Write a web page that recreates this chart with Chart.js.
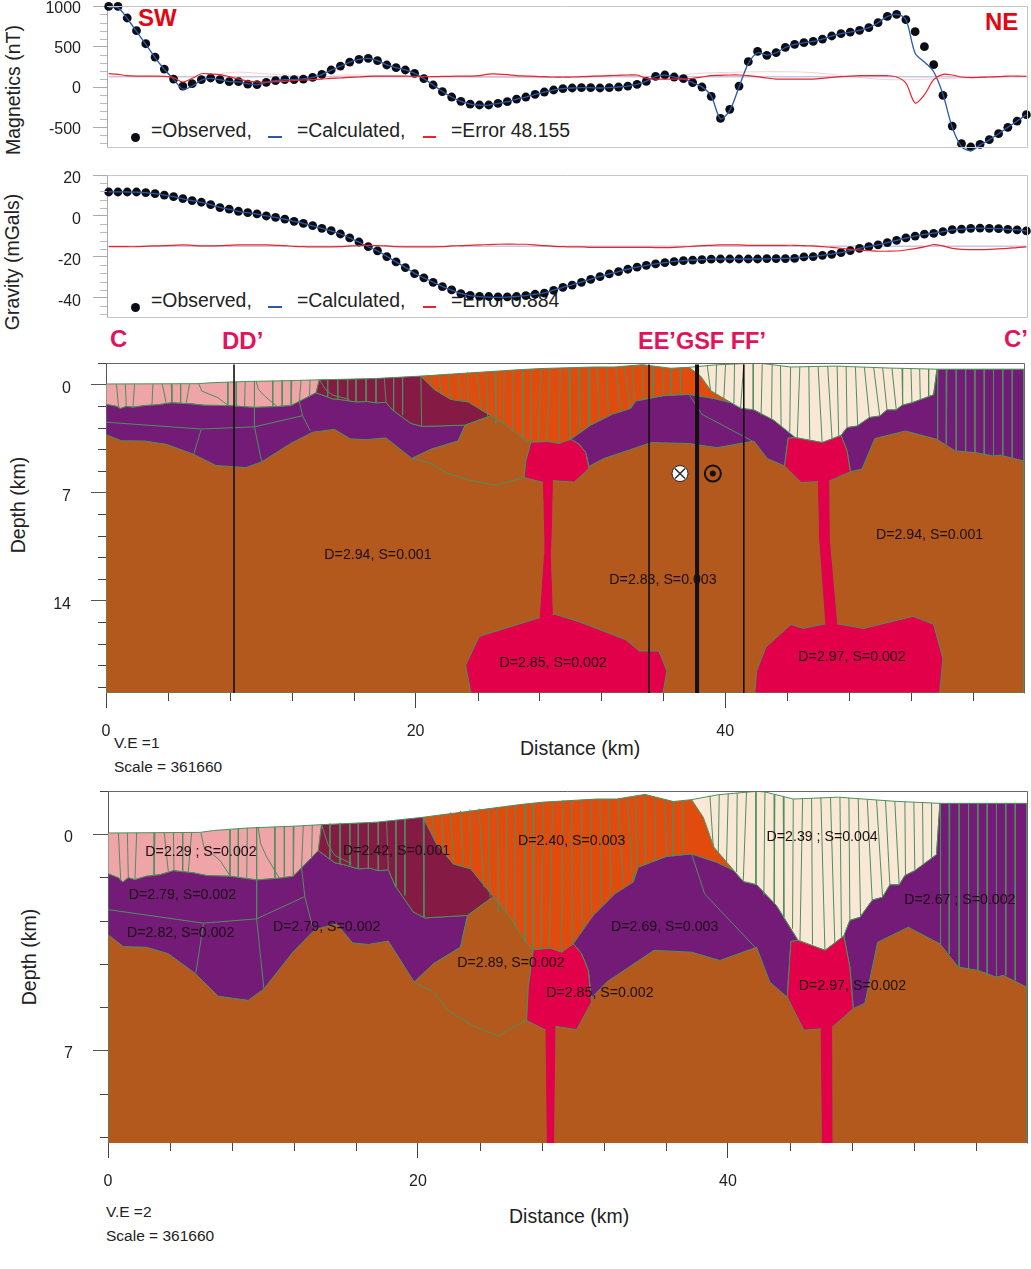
<!DOCTYPE html>
<html>
<head>
<meta charset="utf-8">
<script src="https://cdn.jsdelivr.net/npm/chart.js@4"></script>
<style>
  html, body { margin: 0; padding: 0; background: #fff; }
  body { position: relative; width: 1031px; height: 1269px; overflow: hidden; font-family: "Liberation Sans", Arial, sans-serif; }
  canvas { position: absolute; left: 0; z-index: 2; }
  .txt { position: absolute; white-space: pre; z-index: 1; transform: translateY(-50%); color: #222; }
</style>
</head>
<body>
<canvas id="magChart" width="1031" height="165" style="top:0"></canvas>
<canvas id="gravChart" width="1031" height="165" style="top:165px"></canvas>
<canvas id="section1" width="1031" height="400" style="top:350px"></canvas>
<canvas id="section2" width="1031" height="420" style="top:780px"></canvas>
<script>
// Stations along the profile (km)
const stationKm = [0,0.6,1.2,1.8,2.4,3,3.6,4.2,4.8,5.4,6,6.6,7.2,7.8,8.4,9,9.6,10.2,10.8,11.4,12,12.6,13.2,13.8,14.4,15,15.6,16.2,16.8,17.4,18,18.6,19.2,19.8,20.4,21,21.6,22.2,22.8,23.4,24,24.6,25.2,25.8,26.4,27,27.6,28.2,28.8,29.4,30,30.6,31.2,31.8,32.4,33,33.6,34.2,34.8,35.4,36,36.6,37.2,37.8,38.4,39,39.6,40.2,40.8,41.4,42,42.6,43.2,43.8,44.4,45,45.6,46.2,46.8,47.4,48,48.6,49.2,49.8,50.4,51,51.6,52.2,52.8,53.4,54,54.6,55.2,55.8,56.4,57,57.6,58.2,58.8,59.4];

// Magnetics (nT)
const magObserved = [1000,1000,856,699,537,372,223,99,12,41,91,112,91,66,66,37,29,58,79,91,91,99,120,157,211,260,310,343,356,327,273,240,211,170,103,25,-58,-124,-178,-211,-223,-223,-203,-182,-149,-124,-91,-62,-37,-21,-12,-8,-8,-12,-8,0,12,33,70,132,149,124,103,54,0,-116,-389,-277,12,314,442,393,426,492,529,550,566,595,633,662,682,703,736,798,877,901,835,686,500,277,-103,-484,-703,-744,-711,-653,-579,-500,-422,-343];
const magCalculated = [985,985,850,690,530,365,220,95,-25,10,85,108,90,68,64,40,30,56,78,90,92,100,120,155,210,258,308,342,355,328,274,240,212,170,104,26,-56,-124,-178,-212,-225,-224,-203,-182,-150,-124,-92,-62,-38,-21,-12,-8,-8,-12,-8,0,12,33,72,130,148,124,102,54,2,-110,-395,-290,0,290,425,395,425,490,528,550,566,595,632,662,682,703,736,798,875,900,835,420,310,190,-90,-500,-740,-790,-720,-655,-580,-500,-422,-343];
const magError = [165,157,141,136,136,136,132,116,62,108,165,161,153,128,99,74,62,62,66,70,79,87,91,99,108,112,120,124,132,136,136,136,136,132,128,128,132,132,136,136,141,161,161,153,141,136,132,128,124,124,124,128,132,136,141,145,149,149,108,99,99,99,99,108,124,141,145,149,149,141,128,112,99,99,99,99,99,108,120,128,136,141,141,141,141,124,50,-198,-95,91,157,149,124,116,120,124,128,136,136,132];
const magBaseline = [128,128];
const magGhostKm = [7.2,8.4,9.6,11.4,13.8,15,17.4,28.8,32.4,36,38.4,45,50.4,56.4,59.4];
const magGhost = [170,185,172,150,122,150,140,118,148,128,172,185,92,122,135];
const magTicks = [1000,500,0,-500];
const magMinor = [900,800,700,600,400,300,200,100,-100,-200,-300,-400,-600,-700];

// Gravity (mGals)
const gravObserved = [11.7,11.7,11.7,11.7,11.4,10.9,10.2,9.4,8.5,7.5,6.7,5.5,4.1,3.3,2.3,1.6,1,0,-0.7,-1.5,-2.6,-3.6,-4.7,-6,-7.2,-8.8,-10.7,-12.7,-15,-17,-19.8,-22.4,-25.2,-28.1,-30.2,-32.4,-34.5,-36.1,-37.9,-38.7,-39.2,-39.3,-39.5,-39.5,-39.3,-38.9,-38.2,-37.6,-36.3,-34.8,-33.7,-32.4,-30.9,-29.6,-28.3,-27.2,-26,-25,-24.1,-23.4,-22.8,-22.3,-21.8,-21.5,-21.3,-21.1,-21,-21,-21,-21,-21,-20.8,-20.8,-20.8,-20.7,-20,-19.8,-19.2,-18.7,-17.9,-16.9,-15.8,-15,-14.1,-13,-11.9,-10.7,-9.8,-8.9,-8.5,-7.6,-6.7,-6.4,-6,-5.9,-6,-6.2,-6.5,-6.8,-7.3];
const gravCalculated = [11.8,11.8,11.7,11.6,11.4,10.9,10.2,9.4,8.4,7.5,6.6,5.5,4.2,3.3,2.3,1.6,0.9,0,-0.7,-1.6,-2.6,-3.6,-4.8,-6,-7.3,-8.8,-10.7,-12.8,-15,-17.1,-19.7,-22.4,-25.1,-28,-30.2,-32.4,-34.4,-36.2,-37.8,-38.9,-39.4,-39.6,-39.7,-39.6,-39.3,-38.9,-38.2,-37.5,-36.2,-34.8,-33.6,-32.3,-30.9,-29.6,-28.3,-27.1,-26,-25,-24.1,-23.4,-22.8,-22.2,-21.8,-21.5,-21.3,-21.1,-21,-21,-21,-21,-21,-20.9,-20.8,-20.7,-20.6,-20.1,-19.8,-19.2,-18.6,-17.9,-16.9,-15.8,-15,-14.1,-13,-11.9,-10.8,-9.8,-9,-8.4,-7.6,-6.8,-6.4,-6,-5.9,-6,-6.2,-6.5,-6.8,-7.3];
const gravError = [-15,-15,-15,-15,-14.8,-14.6,-14.5,-14.3,-14.1,-14.3,-14.6,-14.6,-14.5,-14.3,-14.1,-14.1,-14.1,-14.1,-14.3,-14.5,-14.8,-15,-15.1,-15.1,-15.1,-15,-14.6,-14.5,-14.3,-14.5,-14.6,-15,-15.1,-15.1,-15.1,-15.1,-15,-14.6,-14.5,-14.3,-14.1,-14,-13.8,-13.7,-13.8,-13.8,-14.1,-14.5,-14.8,-15,-15.1,-15.1,-15.3,-15.3,-15.3,-15.3,-15.3,-15.3,-15.3,-15.4,-15.4,-15.3,-15.1,-14.8,-14.5,-14.3,-14.1,-14.1,-14.1,-14.3,-14.3,-14.3,-14.3,-14.3,-14.3,-14.5,-14.6,-15,-15.3,-15.8,-16.3,-16.7,-16.9,-17.2,-17.2,-17.1,-16.6,-15.9,-15.1,-14,-14.6,-15.8,-16.3,-16.4,-16.4,-16.3,-16.1,-15.8,-15.4,-15.1];
const gravBaseline = [-14.8,-14.8];
const gravTicks = [20,0,-20,-40];
const gravMinor = [16,12,8,4,-4,-8,-12,-16,-24,-28,-32,-36,-44,-48];

// Section axes (km)
const distanceTicks = [0,20,40];
const distanceMinor = [4,8,12,16,24,28,32,36,44,48,52,56];
const depthTicks1 = [0,7,14];
const depthTicks2 = [0,7];
const depthMinor = [-1.4,1.4,2.8,4.2,5.6,8.4,9.8,11.2,12.6,15.4,16.8,18.2,19.6];
const boreholeKm = [8.27,35.08,41.2];
const faultKm = [38.18];

// Model bodies as [distance km, depth km]
const basement = [[0,1],[59.3,1],[59.3,20],[0,20]];
const pinkBody = [[0,-0.04],[5.94,-0.06],[6.8,-0.12],[8.95,-0.2],[11.96,-0.26],[13.78,-0.31],[13.57,0.53],[12.49,1.09],[11.96,1.36],[11.1,1.42],[9.59,1.48],[7.87,1.36],[6.37,1.34],[5.51,1.25],[4.22,1.18],[3.35,1.31],[2.49,1.36],[1.74,1.47],[1.31,1.41],[0.95,1.55],[0.67,1.41],[0,1.28]];
const leftPurple = [[0,1.28],[0.67,1.41],[0.95,1.55],[1.31,1.41],[1.74,1.47],[2.49,1.36],[3.35,1.31],[4.22,1.18],[5.51,1.25],[6.37,1.34],[7.87,1.36],[9.59,1.48],[11.1,1.42],[11.96,1.36],[12.49,1.09],[13.57,0.53],[14.65,0.93],[15.18,0.98],[16.15,1.12],[16.9,1.1],[17.44,1.18],[18.09,1.15],[18.52,1.66],[19.7,2.52],[20.45,2.71],[23.2,2.63],[22.75,3.66],[20.99,4.2],[19.76,4.79],[18.09,3.46],[16.8,3.57],[15.78,3.52],[14.75,2.9],[13.35,3.09],[11.96,3.8],[10.06,5.01],[9.05,5.38],[7.12,5.25],[5.61,4.5],[3.89,3.87],[2.49,3.66],[0.99,3.64],[0,3.25]];
const maroonBody = [[13.78,-0.31],[17.33,-0.39],[20.34,-0.55],[21.2,0.31],[22.28,0.96],[23.4,1.12],[24.86,2.02],[23.2,2.63],[20.45,2.71],[19.7,2.52],[18.52,1.66],[18.09,1.15],[17.44,1.18],[16.9,1.1],[16.15,1.12],[15.18,0.98],[14.65,0.93],[13.57,0.53]];
const orangeBody = [[20.34,-0.55],[26.58,-0.96],[28.09,-1.04],[31.53,-1.14],[32.82,-1.14],[34.65,-1.29],[36.48,-1.06],[37.66,-1.12],[38.41,-0.55],[39.1,0.42],[40.39,1.18],[39.27,0.91],[37.66,0.64],[36.04,0.72],[34.22,1.07],[33.89,1.55],[32.71,1.93],[31.31,2.63],[30.02,3.55],[29.27,3.82],[28.52,3.69],[27.44,3.74],[27.01,3.55],[25.94,2.69],[24.86,2.02],[23.4,1.12],[22.28,0.96],[21.2,0.31]];
const brownLens = [[24.86,2.02],[25.94,2.69],[27.01,3.55],[27.44,3.74],[27.12,4.95],[27.01,6.03],[25.94,6.3],[25.23,6.54],[23.46,6.19],[21.96,5.71],[20.99,5.11],[19.76,4.79],[20.99,4.2],[22.75,3.66],[23.2,2.63]];
const midPurple = [[40.39,1.18],[39.27,0.91],[37.66,0.64],[36.04,0.72],[34.22,1.07],[33.89,1.55],[32.71,1.93],[31.31,2.63],[30.02,3.55],[30.56,3.87],[30.99,4.41],[31.2,5.3],[32.17,4.79],[35.23,3.76],[37.66,3.82],[39.48,4.09],[41.85,3.66],[42.71,4.79],[43.83,5.28],[43.96,4.3],[44.07,3.47],[44.54,3.44],[43.14,2.31],[41.85,1.63],[41,1.53]];
const tanBody = [[37.66,-1.12],[39.38,-1.28],[41.85,-1.39],[42.39,-1.37],[44.22,-1.14],[47.12,-1.2],[50.67,-1.07],[53.68,-1],[53.46,0.66],[52.06,1.18],[51.42,1.34],[51.05,1.64],[50.45,1.64],[49.98,2.04],[49.33,2.13],[48.52,2.69],[47.87,2.79],[47.48,3.3],[46.27,3.76],[44.54,3.44],[43.14,2.31],[41.85,1.63],[41,1.53],[40.39,1.18],[39.1,0.42],[38.41,-0.55]];
const rightPurple = [[53.68,-1],[59.27,-1],[59.27,4.95],[57.76,4.57],[57.33,4.63],[56.15,4.41],[54.86,4.3],[53.68,3.55],[51.64,3.01],[49.66,3.5],[48.84,5.47],[48.09,5.65],[47.87,4.3],[47.48,3.3],[47.87,2.79],[48.52,2.69],[49.33,2.13],[49.98,2.04],[50.45,1.64],[51.05,1.64],[51.42,1.34],[52.06,1.18],[53.46,0.66]];
const redBody1 = [[27.44,3.74],[28.52,3.69],[29.27,3.82],[30.02,3.55],[30.56,3.87],[30.99,4.41],[31.2,5.44],[30.24,6.33],[28.84,6.22],[28.75,10],[28.7,11],[28.83,14.9],[29.02,14.9],[30.61,15.4],[33.59,16.55],[34.45,17.28],[35.72,17.28],[36.23,18.58],[35.98,20],[23.57,20],[23.23,18.2],[24.11,16.33],[28.05,15.1],[28.33,11],[28.35,10],[28.26,6.35],[27.01,6.03],[27.12,4.95]];
const redBody2 = [[44.07,3.47],[44.54,3.44],[46.27,3.76],[47.48,3.3],[47.87,4.3],[48.09,5.65],[46.69,6.27],[46.72,10],[47.2,15.51],[48.94,15.81],[52.14,15.03],[53.46,15.55],[54.06,17.77],[53.85,20],[41.91,20],[42.03,18.58],[42.63,17.02],[44.25,15.55],[45.02,15.81],[46.5,15.51],[46.1,10],[46.02,6.3],[44.9,6.35],[43.83,5.28],[43.96,4.3]];
// Feeder stems, repainted so the body outline does not eat them
const redStem1 = [[28.26,6.35],[28.84,6.22],[28.75,10],[28.7,11],[28.83,14.9],[28.05,15.1],[28.33,11],[28.35,10]];
const redStem2 = [[46.02,6.3],[46.69,6.27],[46.72,10],[47.2,15.51],[46.5,15.51],[46.1,10]];

// Internal prism edges as [x top, depth top, x bottom, depth bottom]
const pinkEdges = [[0.67,-0.04,0.82,1.5],[1.25,-0.05,1.31,1.41],[1.85,-0.05,1.74,1.47],[3.03,-0.05,2.97,1.33],[3.63,-0.05,3.89,1.2],[4.22,-0.05,4.26,1.18],[4.82,-0.06,4.82,1.2],[5.4,-0.06,5.18,1.22],[7.87,-0.15,7.87,1.36],[8.41,-0.18,8.41,1.4],[8.99,-0.2,8.95,1.42],[9.59,-0.22,9.59,1.48],[10.77,-0.24,10.77,1.45],[11.38,-0.25,11.38,1.4],[12,-0.26,11.96,1.36],[12.6,-0.28,12.49,1.09],[13.18,-0.3,13.14,0.8]];
const maroonEdges = [[14.32,-0.34,14.32,0.8],[14.97,-0.35,14.97,0.96],[15.61,-0.36,15.61,1.01],[16.15,-0.37,16.15,1.12],[16.8,-0.38,16.8,1.12],[17.44,-0.39,17.44,1.18],[17.98,-0.41,18.09,1.15],[18.58,-0.44,18.58,1.72],[19.16,-0.48,19.16,1.98],[20.34,-0.55,20.39,2.71]];
const orangeEdges = [[20.92,-0.6,21.09,0.1],[21.53,-0.65,21.63,0.53],[22.11,-0.71,22.28,0.85],[22.75,-0.76,22.92,1.01],[23.35,-0.8,23.4,1.12],[23.94,-0.83,24.26,1.72],[24.54,-0.85,24.65,2.04],[25.14,-0.87,25.18,2.52],[25.72,-0.89,25.68,2.6],[26.3,-0.93,26.26,3],[26.92,-0.96,26.92,3.48],[27.48,-0.98,27.44,3.74],[28.09,-1.04,27.92,3.74],[28.69,-1.06,28.47,3.69],[29.34,-1.09,29.27,3.82],[29.91,-1.1,29.96,3.58],[30.56,-1.12,30.6,3.07],[31.16,-1.13,31.2,2.63],[31.74,-1.14,31.85,2.31],[32.34,-1.14,32.45,1.98],[32.92,-1.14,33.25,1.66],[33.51,-1.2,33.85,1.5],[34.06,-1.25,34.11,1.07],[34.65,-1.29,34.69,0.97],[35.29,-1.2,35.33,0.85],[35.94,-1.12,36.04,0.72],[36.48,-1.06,36.48,0.71],[37.08,-1.1,37.12,0.64]];
const tanEdges = [[38.84,-1.25,39.05,0.37],[39.44,-1.28,39.38,0.64],[40.02,-1.31,39.91,0.91],[40.6,-1.34,40.56,1.23],[41.2,-1.37,40.99,1.53],[41.81,-1.39,41.81,1.61],[42.39,-1.37,42.32,1.98],[43.03,-1.28,42.99,2.25],[43.57,-1.2,43.61,2.69],[44.22,-1.14,44.17,3.06],[44.82,-1.14,44.65,3.5],[45.4,-1.17,45.46,3.57],[46,-1.18,46.26,3.76],[46.62,-1.19,46.9,3.55],[47.23,-1.2,47.33,3.33],[47.81,-1.18,47.87,2.79],[48.41,-1.15,48.56,2.69],[48.99,-1.13,49.31,2.13],[49.59,-1.11,49.98,2.04],[50.17,-1.09,50.45,1.64],[50.77,-1.07,51.05,1.64],[51.42,-1.06,51.46,1.32],[52,-1.04,52.06,1.15],[52.56,-1.01,52.6,0.96],[53.14,-1,53.14,0.8]];
const purpleEdges = [[53.72,-1,53.72,3.55],[54.32,-1,54.28,3.87],[54.92,-1,54.92,4.29],[55.53,-1,55.53,4.39],[56.13,-1,56.13,4.43],[56.73,-1,56.73,4.57],[57.33,-1,57.33,4.63],[57.93,-1,57.93,4.57],[58.54,-1,58.54,4.73]];

// Broken internal contacts
const contactLines = [
  [[0,2.44],[6.16,2.88],[9.59,2.74],[12.7,2.02]],
  [[6.16,2.88],[5.67,4.5]],
  [[9.59,1.48],[9.59,2.74],[10.06,5.01]],
  [[12.49,1.09],[12.7,2.02],[13.2,3]],
  [[6,-0.04],[6.19,0.42],[7.23,0.85],[7.87,1.34]],
  [[9.7,-0.2],[9.85,0.31],[10.24,0.74],[11.05,1.41]],
  [[13.78,-0.31],[14.22,0.37],[14.65,0.69],[15.72,0.96]],
  [[37.66,0.64],[38.5,1.93],[41.75,3.66]]
];

// Density/susceptibility labels
const labels1 = ['D=2.94, S=0.001','D=2.83, S=0.003','D=2.94, S=0.001','D=2.85, S=0.002','D=2.97, S=0.002'];
const labels1Km = [17.57,35.98,53.2,28.88,48.19];
const labels1Depth = [11.08,12.7,9.79,18.08,17.69];
const labels2 = ['D=2.29 ; S=0.002','D=2.42, S=0.001','D=2.79, S=0.002','D=2.82, S=0.002','D=2.79, S=0.002','D=2.89, S=0.002','D=2.40, S=0.003','D=2.39 ; S=0.004','D=2.69, S=0.003','D=2.67 ; S=0.002','D=2.85, S=0.002','D=2.97, S=0.002'];
const labels2Km = [6,18.62,4.8,4.69,14.11,26,29.92,46.08,35.92,54.97,31.74,48.04];
const labels2Depth = [0.58,0.56,1.98,3.21,3.02,4.18,0.23,0.1,3.02,2.13,5.13,4.93];

// Fault motion symbols
const intoPageKm = [37.08];
const outOfPageKm = [39.2];
const symbolDepth = [5.77];

const FONT = '"Liberation Sans", Arial, sans-serif';
const GREEN = '#4d8f5c';

function xy(xs, ys) {
  return xs.map((x, i) => ({ x: x, y: ys[i] }));
}

function polygon(rows, color, stroke) {
  const pts = rows.map(r => ({ x: r[0], y: r[1] }));
  pts.push(pts[0]);
  return { data: pts, showLine: true, fill: 'shape', backgroundColor: color, borderColor: stroke || GREEN, borderWidth: 1, pointRadius: 0, tension: 0 };
}

function edges(rows) {
  const pts = [];
  rows.forEach(r => {
    pts.push({ x: r[0], y: r[1] }, { x: r[2], y: r[3] }, { x: null, y: null });
  });
  return { data: pts, showLine: true, borderColor: GREEN, borderWidth: 1, pointRadius: 0 };
}

function vline(x, top, bottom, width) {
  return { data: [{ x: x, y: top }, { x: x, y: bottom }], showLine: true, borderColor: '#111', borderWidth: width, pointRadius: 0 };
}

// Minor ticks, frame and body labels
function decor(cfg) {
  return {
    id: 'decor',
    afterDraw(chart) {
      const ctx = chart.ctx, a = chart.chartArea, xs = chart.scales.x, ys = chart.scales.y;
      ctx.save();
      ctx.strokeStyle = cfg.tickColor;
      ctx.lineWidth = 1;
      ctx.beginPath();
      (cfg.yMinor || []).forEach(v => {
        const p = Math.round(ys.getPixelForValue(v)) + 0.5;
        ctx.moveTo(a.left, p); ctx.lineTo(a.left - cfg.minorLen, p);
      });
      (cfg.xMinor || []).forEach(v => {
        const p = Math.round(xs.getPixelForValue(v)) + 0.5;
        ctx.moveTo(p, a.bottom); ctx.lineTo(p, a.bottom + cfg.minorLen);
      });
      ctx.stroke();
      ctx.strokeStyle = cfg.frameColor;
      ctx.beginPath();
      ctx.moveTo(a.left, a.top + 0.5); ctx.lineTo(a.right + 0.5, a.top + 0.5);
      ctx.lineTo(a.right + 0.5, a.bottom + 0.5);
      if (cfg.closeBottom) ctx.lineTo(a.left, a.bottom + 0.5);
      ctx.stroke();
      if (cfg.labels) {
        ctx.fillStyle = '#1c0f14';
        ctx.font = '14.2px ' + FONT;
        ctx.textAlign = 'center';
        ctx.textBaseline = 'middle';
        cfg.labels.forEach((t, i) => {
          ctx.fillText(t, xs.getPixelForValue(cfg.labelKm[i]), ys.getPixelForValue(cfg.labelDepth[i]));
        });
      }
      ctx.restore();
    }
  };
}

function yAxis(ticks, min, max, plotLeft, opts) {
  return {
    reverse: opts.reverse || false,
    min: min,
    max: max,
    afterFit(s) { s.width = plotLeft; s.paddingTop = 0; s.paddingBottom = 0; },
    afterBuildTicks(s) { s.ticks = ticks.map(v => ({ value: v })); },
    border: { display: true, color: opts.lineColor, width: 1 },
    grid: { drawOnChartArea: false, drawTicks: true, tickLength: opts.tickLen, color: opts.lineColor },
    ticks: {
      autoSkip: false, padding: opts.padding, labelOffset: opts.labelOffset, color: '#222',
      font: { family: FONT, size: 16 },
      callback: v => String(v)
    }
  };
}

function profileChart(id, obs, calc, err, base, ghost, yCfg, pad, decorCfg) {
  const datasets = [
    { data: xy(stationKm, err), borderColor: '#e8252b', borderWidth: 1.2, pointRadius: 0, showLine: true, tension: 0.3, clip: false },
    { data: xy(stationKm, calc), borderColor: '#2a59a6', borderWidth: 1.3, pointRadius: 0, showLine: true, tension: 0.3, clip: false },
    { data: xy(stationKm, obs), pointRadius: 4.4, pointBackgroundColor: '#0c0c14', pointBorderWidth: 0, showLine: false, clip: false }
  ];
  if (ghost) datasets.push({ data: ghost, borderColor: 'rgba(232,150,160,0.45)', borderWidth: 1, pointRadius: 0, showLine: true, tension: 0.3 });
  datasets.push({ data: [{ x: stationKm[0], y: base[0] }, { x: stationKm[99], y: base[1] }], borderColor: 'rgba(175,175,215,0.7)', borderWidth: 1.5, pointRadius: 0, showLine: true });
  return new Chart(document.getElementById(id), {
    type: 'scatter',
    data: { datasets: datasets },
    options: {
      responsive: false, animation: false,
      layout: { padding: pad, autoPadding: false },
      plugins: { legend: { display: false }, tooltip: { enabled: false } },
      scales: {
        x: { display: false, min: -0.11, max: 59.44 },
        y: yCfg
      }
    },
    plugins: [decor(decorCfg)]
  });
}

function sectionChart(id, ticks, depthMax, plotLeft, pad, labels, labelKm, labelDepth, labelOffset, extraLayers) {
  const minor = depthMinor.filter(v => v < depthMax);
  const layers = [
    polygon(basement, '#b3591e'),
    polygon(pinkBody, '#efa4a8'),
    polygon(leftPurple, '#741b77'),
    polygon(maroonBody, '#851b45'),
    polygon(orangeBody, '#e14c0e'),
    polygon(brownLens, '#b3591e'),
    polygon(midPurple, '#741b77'),
    polygon(tanBody, '#f8e8d5'),
    polygon(rightPurple, '#741b77'),
    polygon(redBody1, '#e2004b'),
    polygon(redBody2, '#e2004b'),
    polygon(redStem1, '#e2004b', '#e2004b'),
    polygon(redStem2, '#e2004b', '#e2004b'),
    edges(pinkEdges), edges(maroonEdges), edges(orangeEdges), edges(tanEdges), edges(purpleEdges)
  ];
  contactLines.forEach(c => {
    layers.push({ data: c.map(r => ({ x: r[0], y: r[1] })), showLine: true, borderColor: GREEN, borderWidth: 1, pointRadius: 0 });
  });
  extraLayers.forEach(l => layers.push(l));
  return new Chart(document.getElementById(id), {
    type: 'scatter',
    data: { datasets: layers.reverse() },
    options: {
      responsive: false, animation: false,
      layout: { padding: pad, autoPadding: false },
      plugins: { legend: { display: false }, tooltip: { enabled: false } },
      scales: {
        x: {
          type: 'linear', min: 0, max: 59.3,
          afterFit(s) { s.height = 57; s.paddingLeft = 0; s.paddingRight = 0; },
          afterBuildTicks(s) { s.ticks = distanceTicks.map(v => ({ value: v })); },
          border: { display: false },
          grid: { drawOnChartArea: false, drawTicks: true, tickLength: 15, color: '#444' },
          ticks: { autoSkip: false, maxRotation: 0, padding: 14, color: '#222', font: { family: FONT, size: 16 }, callback: v => String(v) }
        },
        y: yAxis(ticks, -1.4, depthMax, plotLeft, { reverse: true, lineColor: '#555', tickLen: 15, padding: 20, labelOffset: labelOffset })
      }
    },
    plugins: [decor({ tickColor: '#444', frameColor: '#666', minorLen: 8, yMinor: minor, xMinor: distanceMinor, labels: labels, labelKm: labelKm, labelDepth: labelDepth })]
  });
}

// Free text on the page, behind the transparent canvases
function addText(text, x, y, size, color, bold, rotate) {
  const d = document.createElement('div');
  d.className = 'txt';
  d.textContent = text;
  d.style.left = x + 'px';
  d.style.top = y + 'px';
  d.style.fontSize = size + 'px';
  if (color) d.style.color = color;
  if (bold) d.style.fontWeight = 'bold';
  if (rotate) d.style.transform = 'translate(-50%,-50%) rotate(-90deg)';
  document.body.appendChild(d);
}

function addSwatch(x, y, w, h, color, round) {
  const d = document.createElement('div');
  d.style.cssText = 'position:absolute;z-index:1;left:' + x + 'px;top:' + y + 'px;width:' + w + 'px;height:' + h + 'px;background:' + color + (round ? ';border-radius:50%' : '');
  document.body.appendChild(d);
}

function addLegend(y, errorText) {
  addSwatch(131, y + 3, 9, 9, '#0c0c14', true);
  addText('=Observed,', 151, y, 19.4);
  addSwatch(268, y + 6, 14, 2, '#2a59a6');
  addText('=Calculated,', 297, y, 19.4);
  addSwatch(423, y + 6, 13, 2, '#e8252b');
  addText(errorText, 451, y, 19.4);
}

addText('Magnetics (nT)', 13, 90, 19.5, null, false, true);
addText('Gravity (mGals)', 12, 262, 19.5, null, false, true);
addText('Depth (km)', 18, 505, 19.5, null, false, true);
addText('Depth (km)', 29, 957, 19.5, null, false, true);
addLegend(130, '=Error 48.155');
addLegend(300, '=Error 0.884');
addText('SW', 138, 18, 24, '#e30613', true);
addText('NE', 985, 22, 24, '#e30613', true);
addText('C', 110, 339, 24, '#e2135d', true);
addText('DD\u2019', 222, 341, 24, '#e2135d', true);
addText('EE\u2019GSF FF\u2019', 638, 341, 23.5, '#e2135d', true);
addText('C\u2019', 1004, 339, 24, '#e2135d', true);
addText('Distance (km)', 520, 748, 19.5);
addText('V.E =1', 114, 743, 15.5);
addText('Scale = 361660', 114, 767, 15.5);
addText('Distance (km)', 509, 1216, 19.5);
addText('V.E =2', 106, 1212, 15.5);
addText('Scale = 361660', 106, 1236, 15.5);

profileChart('magChart', magObserved, magCalculated, magError, magBaseline, xy(magGhostKm, magGhost),
  yAxis(magTicks, -744, 1005, 107, { lineColor: '#aaa', tickLen: 14, padding: 12, labelOffset: 2 }),
  { top: 6, bottom: 18, right: 4 },
  { tickColor: '#bbb', frameColor: '#c6c6c6', minorLen: 7, yMinor: magMinor, closeBottom: true });

profileChart('gravChart', gravObserved, gravCalculated, gravError, gravBaseline, null,
  yAxis(gravTicks, -49.3, 20, 107, { lineColor: '#aaa', tickLen: 14, padding: 12, labelOffset: 4 }),
  { top: 10, bottom: 13, right: 4 },
  { tickColor: '#bbb', frameColor: '#c6c6c6', minorLen: 7, yMinor: gravMinor, closeBottom: true });

// Section 1 carries the profile crossings and the fault symbols
const crossings = [];
boreholeKm.forEach(x => crossings.push(vline(x, -1.3, 20, 1.6)));
faultKm.forEach(x => crossings.push(vline(x, -1.3, 20, 4)));
crossings.push({ data: xy(intoPageKm, symbolDepth), pointStyle: 'circle', pointRadius: 8, pointBackgroundColor: '#fff', pointBorderColor: '#222', pointBorderWidth: 1 });
crossings.push({ data: xy(intoPageKm, symbolDepth), pointStyle: 'crossRot', pointRadius: 7, pointBorderColor: '#333', pointBorderWidth: 1.5 });
crossings.push({ data: xy(outOfPageKm, symbolDepth), pointStyle: 'circle', pointRadius: 8, pointBackgroundColor: 'rgba(0,0,0,0)', pointBorderColor: '#111', pointBorderWidth: 2 });
crossings.push({ data: xy(outOfPageKm, symbolDepth), pointStyle: 'circle', pointRadius: 3, pointBackgroundColor: '#111', pointBorderWidth: 0 });

sectionChart('section1', depthTicks1, 20, 106, { top: 13, right: 7 }, labels1, labels1Km, labels1Depth, 4, crossings);
sectionChart('section2', depthTicks2, 10, 108, { top: 11, right: 4 }, labels2, labels2Km, labels2Depth, 3, []);
</script>
</body>
</html>
